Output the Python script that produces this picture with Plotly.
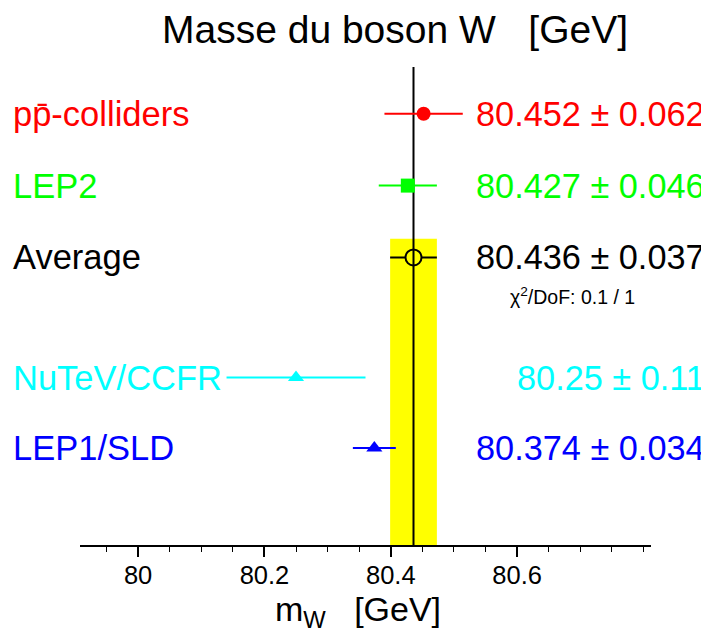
import plotly.graph_objects as go

# ---- data ----
exp_names = ["pp\u0304-colliders", "LEP2", "NuTeV/CCFR", "LEP1/SLD"]
exp_values = [80.452, 80.427, 80.25, 80.374]
exp_errors = [0.062, 0.046, 0.11, 0.034]
exp_colors = ["#ff0000", "#00ff00", "#00ffff", "#0000ff"]
exp_symbols = ["circle", "square", "triangle-up", "triangle-up"]
exp_rows = [6, 5, 2.33, 1.35]

avg_name = "Average"
avg_value = 80.436
avg_error = 0.037
avg_row = 4
chi2_text = "\u03c7<sup>2</sup>/DoF: 0.1 / 1"

x_ticks = [80, 80.2, 80.4, 80.6]
title_text = "Masse du boson W\u00a0\u00a0\u00a0[GeV]"
xaxis_text = "m<sub>W</sub>\u00a0\u00a0\u00a0[GeV]"

# ---- layout constants (page body has an 8px margin) ----
OFF = 8
FONT = "Liberation Sans, Arial, Helvetica, sans-serif"
X_RANGE = [79.908, 80.812]
Y_RANGE = [0, 6.65]
W, H = 709, 640 - OFF
ML, MT = 80 - OFF, 67 - OFF
MR = W - (651 - OFF)
MB = H - (545 - OFF)
PW = W - ML - MR
PH = H - MT - MB


def px_x(px):
    return (px - OFF - ML) / PW


def px_y(py):
    return (H - MB - (py - OFF)) / PH


fig = go.Figure()

# average (yellow-filled circle so the horizontal bar is hidden inside)
fig.add_trace(go.Scatter(
    x=[avg_value], y=[avg_row], mode="markers",
    marker=dict(symbol="circle", size=16, color="#ffff00",
                line=dict(color="black", width=2)),
    error_x=dict(type="data", array=[avg_error], color="black",
                 thickness=2, width=0),
    showlegend=False, hoverinfo="skip"))

# vertical average line
fig.add_trace(go.Scatter(
    x=[avg_value, avg_value], y=[Y_RANGE[0], Y_RANGE[1]], mode="lines",
    line=dict(color="black", width=2), showlegend=False, hoverinfo="skip"))

# experiments
for name, v, e, c, s, r in zip(exp_names, exp_values, exp_errors,
                               exp_colors, exp_symbols, exp_rows):
    fig.add_trace(go.Scatter(
        x=[v], y=[r], mode="markers",
        marker=dict(symbol=s, size=14, color=c, line=dict(width=0)),
        error_x=dict(type="data", array=[e], color=c, thickness=2, width=0),
        showlegend=False, hoverinfo="skip"))

# yellow band
fig.add_shape(type="rect", xref="x", yref="y",
              x0=avg_value - avg_error, x1=avg_value + avg_error,
              y0=Y_RANGE[0], y1=4.26, fillcolor="#ffff00",
              line=dict(width=0), layer="below")

LABEL_SIZE = 34.5
VALUE_SIZE = 34.3
annotations = []
label_x = px_x(11)
value_x = px_x(707)
for name, v, e, c, r in zip(exp_names, exp_values, exp_errors, exp_colors, exp_rows):
    annotations.append(dict(x=label_x, xref="paper", y=r, yref="y", text=name,
                            xanchor="left", yanchor="middle", showarrow=False,
                            font=dict(family=FONT, size=LABEL_SIZE, color=c)))
    annotations.append(dict(x=value_x, xref="paper", y=r, yref="y",
                            text=f"{v} \u00b1 {e}",
                            xanchor="right", yanchor="middle", showarrow=False,
                            font=dict(family=FONT, size=VALUE_SIZE, color=c)))
annotations.append(dict(x=label_x, xref="paper", y=avg_row, yref="y", text=avg_name,
                        xanchor="left", yanchor="middle", showarrow=False,
                        font=dict(family=FONT, size=LABEL_SIZE, color="black")))
annotations.append(dict(x=value_x, xref="paper", y=avg_row, yref="y",
                        text=f"{avg_value} \u00b1 {avg_error}",
                        xanchor="right", yanchor="middle", showarrow=False,
                        font=dict(family=FONT, size=VALUE_SIZE, color="black")))
annotations.append(dict(x=px_x(572), xref="paper", y=3.46, yref="y", text=chi2_text,
                        xanchor="center", yanchor="middle", showarrow=False,
                        font=dict(family=FONT, size=19.5, color="black")))
# title
annotations.append(dict(x=px_x(395), xref="paper", y=px_y(30), yref="paper",
                        text=title_text, xanchor="center", yanchor="middle",
                        showarrow=False, font=dict(family=FONT, size=39, color="black")))
# x axis title
annotations.append(dict(x=px_x(358), xref="paper", y=px_y(611), yref="paper",
                        text=xaxis_text, xanchor="center", yanchor="middle",
                        showarrow=False, font=dict(family=FONT, size=34, color="black")))

fig.update_layout(
    width=W, height=H,
    margin=dict(l=ML, r=MR, t=MT, b=MB),
    paper_bgcolor="white", plot_bgcolor="white",
    annotations=annotations,
    xaxis=dict(range=X_RANGE, showgrid=False, zeroline=False,
               showline=True, linecolor="black", linewidth=2,
               ticks="outside", tickvals=x_ticks, ticktext=[str(t) for t in x_ticks],
               ticklen=10, tickwidth=2, tickcolor="black",
               ticklabelstandoff=-4,
               tickfont=dict(family=FONT, size=25.5, color="black"),
               minor=dict(dtick=0.05, tick0=80, ticks="outside", ticklen=5,
                          tickwidth=1, tickcolor="black", showgrid=False)),
    yaxis=dict(range=Y_RANGE, visible=False, showgrid=False, zeroline=False),
)

fig.write_html("out.html")
